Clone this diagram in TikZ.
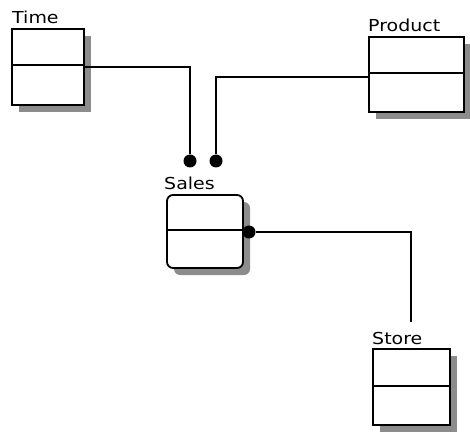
\documentclass[tikz,border=0pt]{standalone}
\usepackage{fontspec}
\setmainfont{DejaVu Sans}[FakeStretch=1.15]
\begin{document}
\begin{tikzpicture}[x=1pt,y=-1pt,
  entity/.style={draw=black,line width=1.8pt,fill=white,minimum width=#1,inner sep=0pt},
  shadow/.style={fill=black!45,draw=none},
  lbl/.style={anchor=base west,inner sep=0pt,font=\fontsize{16.5}{18}\selectfont},
  divider/.style={line width=1.8pt},
  conn/.style={draw=black,line width=1.5pt},
  dot/.style={circle,fill=black,inner sep=0pt,minimum size=13pt}]
\useasboundingbox (0,0) rectangle (470,435);
% shadows
\fill[shadow] (19,36) rectangle (91,112);
\fill[shadow] (376,44) rectangle (471,119);
\fill[shadow,rounded corners=6pt] (174,202) rectangle (250,275);
\fill[shadow] (380,356) rectangle (457,432);
% entities
\node[entity=72pt,minimum height=76pt] (time) at (48,67) {};
\node[entity=95pt,minimum height=75pt] (product) at (416.5,74.5) {};
\node[entity=76pt,minimum height=73pt,rounded corners=6pt] (sales) at (205,231.5) {};
\node[entity=77pt,minimum height=76pt] (store) at (411.5,387) {};
\draw[divider] ([yshift=2pt]time.west) -- ([yshift=2pt]time.east);
\draw[divider] ([yshift=1.5pt]product.west) -- ([yshift=1.5pt]product.east);
\draw[divider] ([yshift=1.5pt]sales.west) -- ([yshift=1.5pt]sales.east);
\draw[divider] ([yshift=1pt]store.west) -- ([yshift=1pt]store.east);
% labels
\node[lbl] (tl) at (12,24) {Time};
\node[lbl] (pl) at (368,32) {Product};
\node[lbl] (sl) at (164,190) {Sales};
\node[lbl] (stl) at (372,344) {Store};
% dots
\node[dot] (d1) at (190,161) {};
\node[dot] (d2) at (216,161) {};
\node[dot] (d3) at (249,232) {};
\coordinate (c3) at (411,322);
% connectors
\draw[conn] (time.east) -| (d1);
\draw[conn] ([yshift=-2.5pt]product.west) -| (d2);
\draw[conn] (d3) -| (c3);
\end{tikzpicture}
\end{document}
